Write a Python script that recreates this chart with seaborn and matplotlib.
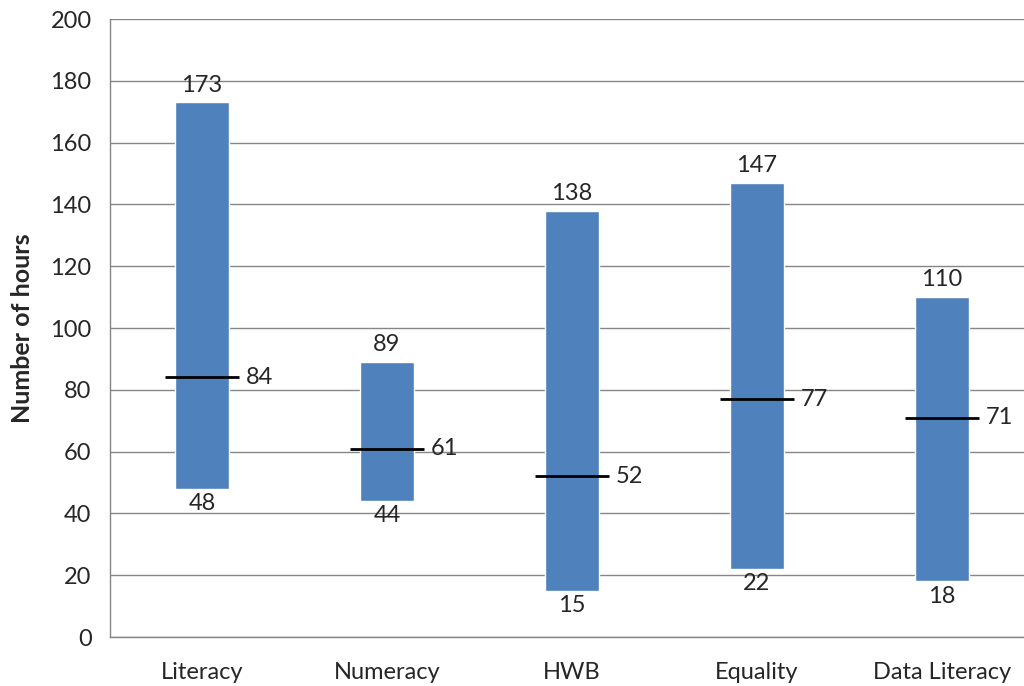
import matplotlib
matplotlib.use("Agg")
import matplotlib.pyplot as plt
import seaborn as sns
import pandas as pd

# Data
categories = ["Literacy", "Numeracy", "HWB", "Equality", "Data Literacy"]
min_hours = [48, 44, 15, 22, 18]
max_hours = [173, 89, 138, 147, 110]
median_hours = [84, 61, 52, 77, 71]

df = pd.DataFrame({
    "category": categories,
    "low": min_hours,
    "high": max_hours,
    "median": median_hours,
})
df["range"] = df["high"] - df["low"]

sns.set_style("white")
plt.rcParams["font.family"] = ["Lato", "DejaVu Sans"]

fig = plt.figure(figsize=(10.24, 6.86), dpi=100)
# axes run slightly past the right edge of the figure, as in the original
ax = fig.add_axes([0.107, 0.0714, 0.903, 0.9008])

grid_col = "#868686"
fs = 17

# Floating bars: draw range, then lift each bar to its minimum
sns.barplot(data=df, x="category", y="range", color="#4F81BD",
            saturation=1, width=0.29, ax=ax, zorder=2)
for patch, lo in zip(ax.patches, df["low"]):
    patch.set_y(lo)

# Median lines
xs = range(len(df))
ax.hlines(df["median"], [x - 0.20 for x in xs], [x + 0.20 for x in xs],
          color="black", linewidth=2, zorder=3)

# Labels
for x, (lo, hi, med) in enumerate(zip(df["low"], df["high"], df["median"])):
    ax.annotate(str(hi), (x, hi), xytext=(0, 5), textcoords="offset points",
                ha="center", va="bottom", fontsize=fs)
    ax.annotate(str(lo), (x, lo), xytext=(0, -3), textcoords="offset points",
                ha="center", va="top", fontsize=fs)
    ax.annotate(str(med), (x + 0.20, med), xytext=(5, 0), textcoords="offset points",
                ha="left", va="center", fontsize=fs)

ax.set_ylim(0, 200)
ax.set_xlim(-0.5, 4.5)
ax.set_yticks(range(0, 201, 20))
ax.yaxis.grid(True, color=grid_col, linewidth=1, zorder=0)
ax.set_axisbelow(True)

ax.set_xlabel("")
ax.set_ylabel("Number of hours", fontsize=18, fontweight="bold", labelpad=12)

for s in ["top", "right"]:
    ax.spines[s].set_visible(False)
for s in ["left", "bottom"]:
    ax.spines[s].set_color(grid_col)
    ax.spines[s].set_linewidth(1)

ax.tick_params(axis="y", length=7, color=grid_col, labelsize=fs, pad=6)
ax.tick_params(axis="x", which="major", length=0, labelsize=fs, pad=18)
ax.set_xticks([i - 0.5 for i in range(len(categories) + 1)], minor=True)
ax.tick_params(axis="x", which="minor", length=7, color=grid_col)

plt.savefig("out.png", dpi=100)
